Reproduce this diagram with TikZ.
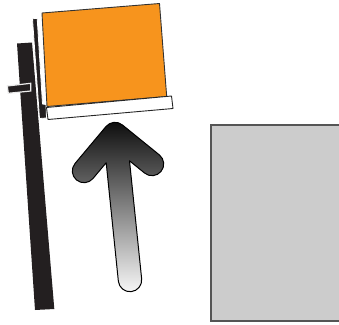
\documentclass[tikz,border=0pt]{standalone}
\usetikzlibrary{calc}
\definecolor{postdark}{HTML}{231F20}
\definecolor{boxorange}{HTML}{F7941D}
\definecolor{panelgray}{HTML}{CCCCCC}
\definecolor{panelline}{HTML}{555555}
\tikzset{
  darkbar/.style={fill=postdark, draw=none},
  crossbar/.style={fill=postdark, draw=white!85!gray, line width=1.2pt},
  mastbar/.style={fill=postdark, draw=white, line width=0.8pt},
  cargo/.style={fill=boxorange, draw=black!80, line width=0.9pt, line join=round},
  plate/.style={fill=white, draw=black!85, line width=0.9pt, line join=round},
  panel/.style={fill=panelgray, draw=panelline, line width=1.3pt},
  arrowbody/.style={top color=black!95, bottom color=white!97!black, draw=black, line width=1pt, line join=round},
}
\begin{document}
\begin{tikzpicture}[x=1pt,y=-1pt]
\useasboundingbox (0,0) rectangle (339,324);
\clip (0,0) rectangle (339,324);
% thick post
\fill[darkbar] (17,43.5) -- (32,42.5) -- (54.3,309) -- (35,310) -- cycle;
% crossbar
\path[crossbar] (7.3,86) -- (30.7,83.3) -- (30.7,91) -- (8.3,93.3) -- cycle;
% thin mast
\path[mastbar] (32.5,18.8) -- (37.2,18.3) -- (42.5,104) -- (46,104.5) -- (46.5,118) -- (39.5,118.5) -- cycle;
% orange cargo box
\path[cargo] (42,13) -- (159.5,3.5) -- (166.7,96.5) -- (47,106.5) -- cycle;
% white plate
\path[plate] (46.5,107.5) -- (171.5,96) -- (173,108.5) -- (48,119.5) -- cycle;
% arrow
\def\hw{11.7}
\coordinate (J) at (115,134);
\coordinate (L) at (84,171);
\coordinate (R) at (152,164);
\coordinate (B) at (130,280);
\coordinate (La) at ($(J)+(39.9:\hw)$);
\coordinate (Lb) at ($(L)+(39.9:\hw)$);
\coordinate (Sa) at ($(J)+(174.1:\hw)$);
\coordinate (Sb) at ($(B)+(174.1:\hw)$);
\coordinate (Ta) at ($(J)+(-5.9:\hw)$);
\coordinate (Tb) at ($(B)+(-5.9:\hw)$);
\coordinate (Ra) at ($(J)+(129:\hw)$);
\coordinate (Rb) at ($(R)+(129:\hw)$);
\coordinate (IL) at (intersection of La--Lb and Sa--Sb);
\coordinate (IR) at (intersection of Ra--Rb and Ta--Tb);
\shade[arrowbody]
  ($(J)+(219.9:\hw)$) -- ($(L)+(219.9:\hw)$)
  arc[start angle=219.9, end angle=39.9, radius=\hw]
  -- (IL) -- (Sb)
  arc[start angle=174.1, end angle=-5.9, radius=\hw]
  -- (IR) -- (Rb)
  arc[start angle=129, end angle=-51, radius=\hw]
  -- ($(J)+(-51:\hw)$)
  arc[start angle=-51, end angle=-140.1, radius=\hw]
  -- cycle;
% gray panel (runs past the right edge)
\path[panel] (211,125) rectangle (360,321);
\end{tikzpicture}
\end{document}
